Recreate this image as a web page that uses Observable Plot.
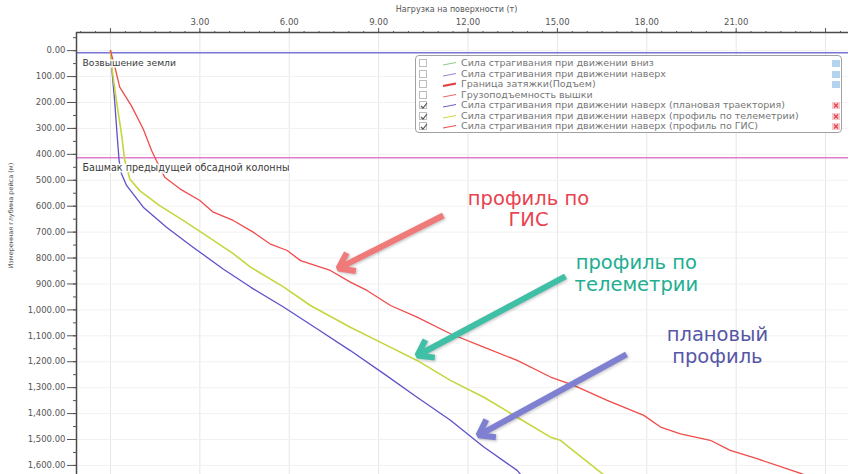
<!DOCTYPE html>
<html lang="ru">
<head>
<meta charset="utf-8">
<script src="https://cdn.jsdelivr.net/npm/d3@7"></script>
<script src="https://cdn.jsdelivr.net/npm/@observablehq/plot@0.6"></script>
<style>
  html, body { margin: 0; padding: 0; background: #fff; }
  #chart { position: relative; width: 851px; height: 474px; overflow: hidden; font-family: "DejaVu Sans", sans-serif; }
  #chart svg { display: block; }
  #legend { position: absolute; left: 415px; top: 55px; width: 427px; height: 78px; box-sizing: border-box;
            border: 1px solid #a0a0a0; border-radius: 4px; background: #fff; padding-top: 2px; }
  .row { position: relative; height: 10.5px; line-height: 10.5px; font-size: 9.5px; color: #767676; white-space: nowrap; }
  .cb { position: absolute; left: 3px; top: 1px; width: 8px; height: 8px; box-sizing: border-box;
        border: 1px solid #bdbdbd; background: #fff; }
  .cb svg, .swatch svg { position: absolute; left: 0; top: 0; }
  .swatch { position: absolute; left: 26px; top: 1px; width: 15px; height: 9px; }
  .txt { position: absolute; left: 45px; top: 0; }
  .icon { position: absolute; right: 1px; top: 2px; width: 8px; height: 7px; }
</style>
</head>
<body>
<div id="chart"></div>
<script>
// Surface load (t) versus measured depth (m) for three well profiles
const gisLoad   = [0, 0.15, 0.31, 0.7, 1.1, 1.38, 1.54, 1.82, 2.33, 3.0, 3.45, 4.12, 4.79, 5.35, 5.93, 6.38, 7.38, 8.05, 8.61, 9.4, 10.29, 11.41, 12.53, 13.65, 14.77, 15.55, 16.67, 17.9, 18.46, 19.13, 20.13, 20.8, 21.7, 23.04, 23.4];
const gisDepth  = [0, 64, 141, 212, 302, 385, 424, 488, 533, 578, 623, 655, 700, 745, 771, 810, 848, 893, 925, 983, 1028, 1092, 1144, 1195, 1259, 1291, 1349, 1407, 1452, 1478, 1503, 1542, 1574, 1626, 1640];

const telemLoad  = [0, 0.03, 0.2, 0.37, 0.48, 0.65, 0.98, 1.65, 2.44, 3.33, 4.12, 4.7, 5.82, 6.71, 8.05, 9.17, 10.29, 11.41, 12.53, 13.65, 14.77, 15.1, 16.44, 16.6];
const telemDepth = [0, 51, 193, 321, 424, 495, 540, 598, 655, 722, 783, 835, 912, 983, 1067, 1131, 1195, 1272, 1337, 1414, 1491, 1503, 1626, 1640];

const planLoad  = [0, 0.03, 0.14, 0.22, 0.29, 0.37, 0.54, 1.1, 1.88, 2.77, 3.78, 4.7, 5.82, 6.93, 8.05, 9.17, 10.29, 11.41, 12.53, 13.65, 13.8];
const planDepth = [0, 51, 193, 321, 424, 475, 520, 604, 681, 758, 842, 912, 990, 1073, 1157, 1246, 1337, 1426, 1529, 1619, 1640];

// Reference depths
const groundLevel = 8;
const casingShoe = 413;
const groundLabel = "Возвышение земли";
const casingLabel = "Башмак предыдущей обсадной колонны";

// Axes
const loadLabelTicks = [3, 6, 9, 12, 15, 18, 21];
const loadTickLabels = ["3.00", "6.00", "9.00", "12.00", "15.00", "18.00", "21.00"];
const loadEdgeTicks = [0, 24];
const loadMinorTicks = d3.range(-1, 25, 0.5);
const depthTicks = [0, 100, 200, 300, 400, 500, 600, 700, 800, 900, 1000, 1100, 1200, 1300, 1400, 1500, 1600];
const depthTickLabels = ["0.00", "100.00", "200.00", "300.00", "400.00", "500.00", "600.00", "700.00", "800.00", "900.00", "1,000.00", "1,100.00", "1,200.00", "1,300.00", "1,400.00", "1,500.00", "1,600.00"];
const depthMinorTicks = d3.range(-50, 1650, 50);
const xTitle = "Нагрузка на поверхности (т)";
const yTitle = "Измеренная глубина рейса (м)";

// Callouts
const noteText  = ["профиль по\nГИС", "профиль по\nтелеметрии", "плановый\nпрофиль"];
const noteColor = ["#e8434f", "#22ae92", "#5756a6"];
const noteLoad  = [14.03, 17.65, 20.37];
const noteDepth = [609, 857, 1135];
const arrowColor = ["#f07a7a", "#3fbfa6", "#7f80d2"];
const arrowFromLoad  = [11.17, 15.27, 17.32];
const arrowFromDepth = [636, 871, 1172];
const arrowToLoad    = [7.65, 10.3, 12.35];
const arrowToDepth   = [840, 1176, 1484];

// Legend
const legendLabels = [
  "Сила страгивания при движении вниз",
  "Сила страгивания при движении наверх",
  "Граница затяжки(Подъем)",
  "Грузоподъемность вышки",
  "Сила страгивания при движении наверх (плановая траектория)",
  "Сила страгивания при движении наверх (профиль по телеметрии)",
  "Сила страгивания при движении наверх (профиль по ГИС)"
];
const legendColors  = ["#86cf86", "#9a82d6", "#e83a3a", "#f06a6a", "#6a5ec8", "#c9d741", "#ef4a4a"];
const legendWidths  = [1, 1, 2, 1.2, 1, 1, 1];
const legendChecked = [false, false, false, false, true, true, true];
const legendIcon    = ["blue", "blue", "blue", null, "red", "red", "red"];

const xDomain = [-1.14, 24.77];
const yDomain = [-70, 1635];

const rows = (loads, depths) => loads.map((v, i) => ({load: v, depth: depths[i]}));
const notes = noteText.map((t, i) => ({text: t, color: noteColor[i], load: noteLoad[i], depth: noteDepth[i]}));
const arrows = arrowColor.map((c, i) => ({color: c, x1: arrowFromLoad[i], y1: arrowFromDepth[i], x2: arrowToLoad[i], y2: arrowToDepth[i]}));

const chart = Plot.plot({
  width: 851,
  height: 474,
  marginTop: 32,
  marginLeft: 76,
  marginRight: 3,
  marginBottom: 0,
  x: {domain: xDomain},
  y: {domain: yDomain, reverse: true},
  style: {fontFamily: "DejaVu Sans, sans-serif", background: "#fff", overflow: "visible"},
  marks: [
    // grid
    Plot.ruleX([0, 3, 6, 9, 12, 15, 18, 21, 24], {stroke: "#e6e6e6", strokeWidth: 1}),
    Plot.ruleY(depthTicks, {stroke: "#f1f1f1", strokeWidth: 1}),
    // reference levels
    Plot.ruleY([groundLevel], {stroke: "#7775d6", strokeWidth: 1.6}),
    Plot.ruleY([casingShoe], {stroke: "#e07ccb", strokeWidth: 1.6}),
    // profiles
    Plot.line(rows(planLoad, planDepth), {x: "load", y: "depth", stroke: "#5e52c8", strokeWidth: 1.3, clip: true}),
    Plot.line(rows(telemLoad, telemDepth), {x: "load", y: "depth", stroke: "#c6d63e", strokeWidth: 1.6, clip: true}),
    Plot.line(rows(gisLoad, gisDepth), {x: "load", y: "depth", stroke: "#f04b4b", strokeWidth: 1.3, clip: true}),
    // level labels
    Plot.text([groundLabel], {x: xDomain[0], y: groundLevel, dx: 6, dy: 10, textAnchor: "start", fontSize: 9.2,
      fill: "#3a3a3a", stroke: "#fff", strokeWidth: 3}),
    Plot.text([casingLabel], {x: xDomain[0], y: casingShoe, dx: 6, dy: 10, textAnchor: "start", fontSize: 9.6,
      fill: "#3a3a3a", stroke: "#fff", strokeWidth: 3}),
    // callouts
    Plot.arrow(arrows, {x1: "x1", y1: "y1", x2: "x2", y2: "y2", stroke: "color", strokeWidth: 6,
      headLength: 4.4, headAngle: 70, strokeLinecap: "butt", strokeLinejoin: "miter"}),
    Plot.text(notes, {x: "load", y: "depth", text: "text", fill: "color", fontSize: 19.5, lineHeight: 1.12,
      fontFamily: "DejaVu Sans, sans-serif"}),
    // axis frame lines
    Plot.ruleX([xDomain[0]], {stroke: "#4a4a4a", strokeWidth: 1.5}),
    Plot.ruleY([yDomain[0]], {stroke: "#4a4a4a", strokeWidth: 1.5}),
    // top axis
    Plot.axisX({anchor: "top", ticks: loadMinorTicks, tickSize: 2, tickFormat: () => "", label: null, color: "#555"}),
    Plot.axisX({anchor: "top", ticks: loadEdgeTicks, tickSize: 5, tickFormat: () => "", label: null, color: "#555"}),
    Plot.axisX({anchor: "top", ticks: loadLabelTicks, tickSize: 5, tickPadding: 3, label: null, color: "#555",
      fontSize: 8.5, tickFormat: (d) => loadTickLabels[loadLabelTicks.indexOf(d)]}),
    Plot.text([xTitle], {frameAnchor: "top", dy: -26, dx: -6, fontSize: 8, fill: "#555"}),
    // left axis
    Plot.axisY({anchor: "left", ticks: depthMinorTicks, tickSize: 3, tickFormat: () => "", label: null, color: "#555"}),
    Plot.axisY({anchor: "left", ticks: depthTicks, tickSize: 9, tickPadding: 2, label: null, color: "#555",
      fontSize: 8.5, tickFormat: (d) => depthTickLabels[depthTicks.indexOf(d)]}),
    Plot.text([yTitle], {frameAnchor: "left", rotate: -90, dx: -66, dy: 15, fontSize: 6.5, fill: "#555"})
  ]
});

d3.select(chart).selectAll('g[aria-label="arrow"]')
  .style("filter", "drop-shadow(1px 1px 1.5px rgba(0,0,0,0.25))");

const root = document.getElementById("chart");
root.appendChild(chart);

// legend panel
const legend = d3.select(root).append("div").attr("id", "legend");
legendLabels.forEach((label, i) => {
  const row = legend.append("div").attr("class", "row");
  const cb = row.append("div").attr("class", "cb");
  if (legendChecked[i]) {
    cb.append("svg").attr("width", 8).attr("height", 8)
      .append("path").attr("d", "M1 4 L3 6 L7 1").attr("fill", "none")
      .attr("stroke", "#555").attr("stroke-width", 1.2);
  }
  row.append("div").attr("class", "swatch")
    .append("svg").attr("width", 15).attr("height", 9)
    .append("line").attr("x1", 1).attr("y1", 6).attr("x2", 14).attr("y2", 3.5)
    .attr("stroke", legendColors[i]).attr("stroke-width", legendWidths[i]);
  row.append("div").attr("class", "txt").text(label);
  if (legendIcon[i] === "blue") {
    row.append("div").attr("class", "icon").style("background", "#b3d3ee");
  } else if (legendIcon[i] === "red") {
    row.append("div").attr("class", "icon").style("background", "#f6c9cf")
      .append("svg").attr("width", 8).attr("height", 7)
      .append("path").attr("d", "M2 1.5 L6 5.5 M6 1.5 L2 5.5").attr("stroke", "#e04040").attr("stroke-width", 1.1);
  }
});
</script>
</body>
</html>
